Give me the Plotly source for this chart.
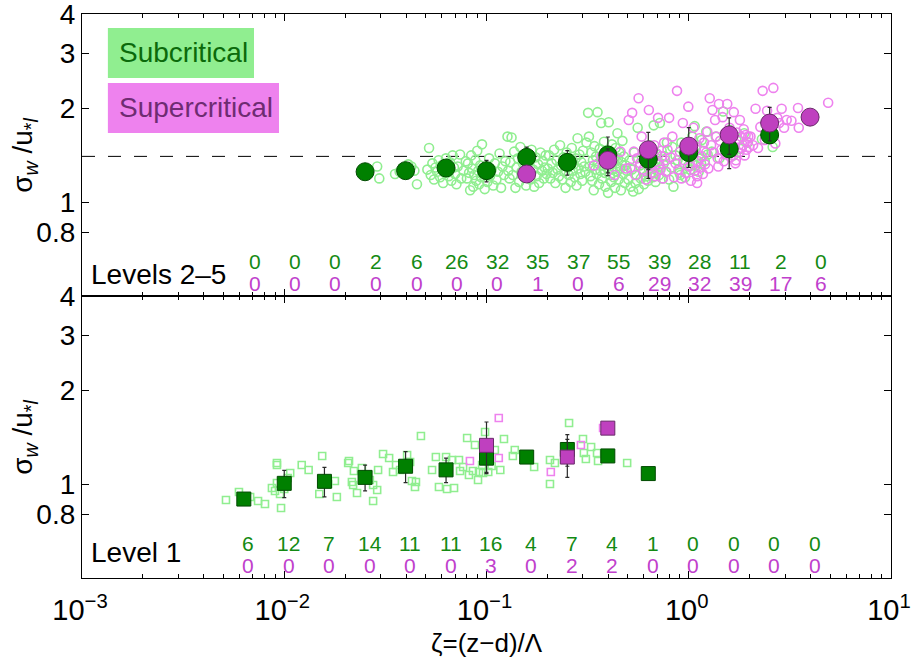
import numpy as np
import plotly.graph_objects as go
from plotly.subplots import make_subplots

# ---------------- data ----------------
bin_centers = [0.00631, 0.01, 0.0158, 0.0251, 0.0398, 0.0631, 0.1, 0.158, 0.251,
               0.398, 0.631, 1.0, 1.585, 2.512, 3.981]
sub_top_counts = [0, 0, 0, 2, 6, 26, 32, 35, 37, 55, 39, 28, 11, 2, 0]
sup_top_counts = [0, 0, 0, 0, 0, 0, 0, 1, 0, 6, 29, 32, 39, 17, 6]
sub_bot_counts = [6, 12, 7, 14, 11, 11, 16, 4, 7, 4, 1, 0, 0, 0, 0]
sup_bot_counts = [0, 0, 0, 0, 0, 0, 3, 0, 2, 2, 0, 0, 0, 0, 0]

ref_level = 1.4
y_tickvals = [0.8, 1, 2, 3, 4]
y_ticktext = ["0.8", "1", "2", "3", "4"]
x_tickvals = [0.001, 0.01, 0.1, 1, 10]
x_ticktext = ["10<sup>\u22123</sup>", "10<sup>\u22122</sup>", "10<sup>\u22121</sup>",
              "10<sup>0</sup>", "10<sup>1</sup>"]
x_minor_mult = [2, 3, 4, 5, 6, 7, 8, 9]

# Levels 2-5, subcritical individual runs
sub_top_zeta = [
    0.0288, 0.0295,
    0.0353, 0.0453, 0.0425, 0.0440, 0.0410, 0.0372,
    0.051, 0.052, 0.053, 0.054, 0.055, 0.056, 0.057, 0.058, 0.059, 0.060, 0.061, 0.062, 0.063,
    0.064, 0.065, 0.066, 0.067, 0.068, 0.069, 0.070, 0.071, 0.072, 0.074, 0.075, 0.077, 0.079,
    0.080, 0.081, 0.082, 0.083, 0.084, 0.085, 0.086, 0.087, 0.088, 0.089, 0.090, 0.091, 0.092,
    0.093, 0.094, 0.095, 0.097, 0.098, 0.100, 0.101, 0.103, 0.104, 0.106, 0.108, 0.110, 0.112,
    0.114, 0.116, 0.118, 0.120, 0.122, 0.124,
    0.127, 0.128, 0.130, 0.131, 0.133, 0.135, 0.137, 0.139, 0.141, 0.143, 0.145, 0.147, 0.149,
    0.151, 0.153, 0.155, 0.157, 0.159, 0.161, 0.163, 0.165, 0.167, 0.170, 0.172, 0.175, 0.177,
    0.180, 0.182, 0.185, 0.188, 0.190, 0.192, 0.194, 0.196, 0.198,
    0.201, 0.204, 0.207, 0.210, 0.213, 0.216, 0.219, 0.222, 0.225, 0.228, 0.231, 0.234, 0.237,
    0.240, 0.243, 0.246, 0.249, 0.252, 0.255, 0.258, 0.261, 0.264, 0.267, 0.270, 0.273, 0.276,
    0.279, 0.282, 0.285, 0.288, 0.291, 0.294, 0.297, 0.300, 0.304, 0.308, 0.312,
    0.318, 0.321, 0.324, 0.327, 0.330, 0.333, 0.336, 0.339, 0.342, 0.345, 0.348, 0.351, 0.354,
    0.357, 0.360, 0.363, 0.366, 0.369, 0.372, 0.375, 0.378, 0.381, 0.384, 0.387, 0.390, 0.393,
    0.396, 0.399, 0.402, 0.405, 0.408, 0.411, 0.414, 0.417, 0.420, 0.423, 0.426, 0.429, 0.432,
    0.435, 0.438, 0.441, 0.444, 0.447, 0.450, 0.454, 0.458, 0.462, 0.466, 0.470, 0.474, 0.478,
    0.483, 0.488, 0.494,
    0.503, 0.510, 0.517, 0.524, 0.531, 0.538, 0.545, 0.552, 0.559, 0.566, 0.573, 0.580, 0.587,
    0.594, 0.601, 0.608, 0.615, 0.622, 0.629, 0.636, 0.643, 0.650, 0.657, 0.664, 0.671, 0.678,
    0.685, 0.692, 0.699, 0.706, 0.713, 0.720, 0.727, 0.734, 0.741, 0.750, 0.760, 0.770, 0.780,
    0.80, 0.82, 0.84, 0.86, 0.88, 0.90, 0.92, 0.94, 0.96, 0.98, 1.00, 1.02, 1.04, 1.06, 1.08,
    1.10, 1.12, 1.14, 1.16, 1.18, 1.20, 1.22, 1.24, 0.83, 0.91, 0.99, 1.07, 1.15,
    1.30, 1.36, 1.42, 1.48, 1.54, 1.60, 1.66, 1.72, 1.80, 1.88, 1.96,
    2.30, 2.60,
]
sub_top_sigma = [
    1.30, 1.19,
    1.23, 1.14, 1.30, 1.26, 1.32, 1.25,
    1.27, 1.49, 1.22, 1.33, 1.18, 1.29, 1.25, 1.36, 1.20, 1.31, 1.15, 1.24, 1.38,
    1.27, 1.21, 1.34, 1.17, 1.41, 1.29, 1.23, 1.14, 1.30, 1.42, 1.19, 1.26, 1.35,
    1.19, 1.33, 1.24, 1.09, 1.41, 1.28, 1.12, 1.22, 1.36, 1.17, 1.46, 1.26, 1.14,
    1.31, 1.20, 1.53, 1.23, 1.10, 1.29, 1.16, 1.38, 1.21, 1.27, 1.13, 1.33, 1.18,
    1.25, 1.43, 1.11, 1.30, 1.22, 1.35,
    1.62, 1.26, 1.19, 1.34, 1.61, 1.22, 1.45, 1.11, 1.29, 1.38, 1.16, 1.50, 1.25,
    1.33, 1.20, 1.42, 1.13, 1.30, 1.24, 1.36, 1.18, 1.47, 1.27, 1.12, 1.39, 1.21,
    1.32, 1.15, 1.44, 1.26, 1.35, 1.19, 1.29, 1.41, 1.23,
    1.28, 1.41, 1.19, 1.33, 1.24, 1.47, 1.15, 1.36, 1.27, 1.21, 1.52, 1.31, 1.18,
    1.39, 1.25, 1.11, 1.44, 1.29, 1.22, 1.35, 1.16, 1.49, 1.26, 1.32, 1.20, 1.38,
    1.13, 1.60, 1.28, 1.42, 1.23, 1.34, 1.17, 1.46, 1.30, 1.25, 1.55,
    1.93, 1.62, 1.30, 1.21, 1.44, 1.17, 1.36, 1.09, 1.51, 1.27, 1.40, 1.23, 1.94,
    1.33, 1.14, 1.48, 1.26, 1.79, 1.19, 1.38, 1.31, 1.56, 1.24, 1.12, 1.43, 1.29,
    1.35, 1.07, 1.80, 1.46, 1.22, 1.33, 1.16, 1.53, 1.27, 1.41, 1.20, 1.36, 1.11,
    1.49, 1.30, 1.25, 1.66, 1.38, 1.18, 1.44, 1.28, 1.09, 1.34, 1.57, 1.23, 1.40,
    1.15, 1.31, 1.26,
    1.18, 1.36, 1.12, 1.27, 1.08, 1.44, 1.15, 1.22, 1.73, 1.10, 1.31, 1.19, 1.39,
    1.25, 1.14, 1.48, 1.21, 1.33, 1.17, 1.28, 1.52, 1.24, 1.37, 1.20, 1.76, 1.30,
    1.16, 1.42, 1.26, 1.35, 1.22, 1.79, 1.29, 1.46, 1.19, 1.32, 1.40, 1.25, 1.55,
    1.18, 1.29, 1.12, 1.41, 1.36, 1.24, 1.55, 1.33, 1.20, 1.47, 1.39, 1.27, 1.62, 1.44, 1.31,
    1.52, 1.25, 1.38, 1.58, 1.46, 1.35, 1.68, 1.42, 1.50, 1.22, 1.30, 1.75, 1.33,
    1.45, 1.62, 1.38, 1.95, 1.52, 1.70, 1.41, 1.58, 1.48, 1.66, 1.55,
    1.59, 1.50,
]

# Levels 2-5, supercritical individual runs
sup_top_zeta = [
    0.165,
    0.34, 0.37, 0.40, 0.43, 0.46, 0.49,
    0.505, 0.515, 0.525, 0.535, 0.545, 0.555, 0.565, 0.575, 0.585, 0.595, 0.605, 0.615, 0.625,
    0.635, 0.645, 0.655, 0.665, 0.675, 0.685, 0.695, 0.705, 0.715, 0.725, 0.735, 0.745, 0.755,
    0.765, 0.775, 0.785,
    0.800, 0.815, 0.830, 0.845, 0.860, 0.875, 0.890, 0.905, 0.920, 0.935, 0.950, 0.965, 0.980,
    0.995, 1.010, 1.025, 1.040, 1.055, 1.070, 1.085, 1.100, 1.115, 1.130, 1.145, 1.160, 1.175,
    1.190, 1.205, 1.220, 1.235, 1.250, 1.100,
    1.27, 1.29, 1.31, 1.33, 1.35, 1.37, 1.39, 1.41, 1.43, 1.45, 1.47, 1.49, 1.51, 1.53, 1.55,
    1.57, 1.59, 1.61, 1.63, 1.65, 1.67, 1.69, 1.71, 1.73, 1.75, 1.77, 1.79, 1.81, 1.83, 1.85,
    1.87, 1.89, 1.91, 1.93, 1.95, 1.97, 1.99, 1.40, 1.70,
    2.02, 2.08, 2.14, 2.20, 2.26, 2.32, 2.38, 2.44, 2.50, 2.56, 2.62, 2.68, 2.74, 2.80, 2.88,
    2.96, 3.05,
    3.22, 3.47, 3.50, 3.98, 4.10, 4.89,
]
sup_top_sigma = [
    1.23,
    1.31, 1.40, 1.36, 1.22, 1.45, 1.28,
    1.83, 1.29, 1.93, 1.45, 1.22, 1.38, 2.15, 1.33, 1.62, 1.27, 1.48, 1.18, 1.41,
    1.97, 1.30, 1.35, 1.24, 1.52, 1.21, 1.43, 1.86, 1.32, 1.27, 1.40, 1.19, 1.55,
    1.36, 1.25, 1.47,
    1.86, 1.39, 1.62, 1.20, 1.33, 2.27, 1.27, 1.45, 1.19, 1.79, 1.36, 1.24, 1.52,
    2.02, 1.30, 1.17, 1.42, 1.73, 1.26, 1.48, 1.21, 1.35, 1.60, 1.29, 1.40, 1.23,
    1.55, 1.32, 1.44, 1.68, 1.28, 1.15,
    2.15, 1.52, 1.97, 1.44, 1.83, 1.62, 1.38, 2.06, 1.57, 1.47, 1.87, 1.35, 1.66, 1.42, 2.06,
    1.53, 1.73, 1.39, 1.60, 1.46, 1.94, 1.50, 1.36, 1.67, 1.58, 1.44, 1.83, 1.62, 1.49, 1.52,
    1.71, 1.41, 1.64, 1.47, 1.56, 1.62, 1.50, 1.30, 1.33,
    1.62, 1.52, 1.99, 1.49, 1.74, 2.27, 1.58, 1.96, 1.83, 1.67, 2.32, 1.54, 1.86, 1.79, 1.99,
    1.73, 1.83,
    1.82, 2.00, 1.73, 1.87, 1.90, 2.08,
]

# Levels 2-5, bin means and spreads
sub_top_mean_zeta = [0.0251, 0.0398, 0.0631, 0.1, 0.158, 0.251, 0.398, 0.631, 1.0, 1.585, 2.512]
sub_top_mean_sigma = [1.25, 1.26, 1.285, 1.26, 1.39, 1.34, 1.415, 1.37, 1.44, 1.48, 1.64]
sub_top_err = [0.0, 0.0, 0.03, 0.10, 0.11, 0.12, 0.20, 0.18, 0.15, 0.20, 0.10]
sup_top_mean_zeta = [0.158, 0.398, 0.631, 1.0, 1.585, 2.512, 3.981]
sup_top_mean_sigma = [1.23, 1.36, 1.47, 1.51, 1.64, 1.79, 1.87]
sup_top_err = [0.0, 0.12, 0.20, 0.22, 0.22, 0.22, 0.07]

# Level 1, individual runs
sub_bot_zeta = [
    0.00515, 0.00597, 0.00742, 0.00803, 0.00647, 0.00678,
    0.0092, 0.0092, 0.0090, 0.00953, 0.00964, 0.0107, 0.0122, 0.0092, 0.00869, 0.0104, 0.0100, 0.0102,
    0.0132, 0.0154, 0.0149, 0.0178, 0.0182, 0.0165, 0.0161,
    0.0207, 0.0209, 0.0221, 0.0216, 0.0219, 0.0229, 0.0275, 0.0275, 0.0291, 0.0288, 0.0308,
    0.0254, 0.0242, 0.0265,
    0.0330, 0.0345, 0.0357, 0.0405, 0.0428, 0.0448, 0.0443, 0.0474, 0.0374, 0.0396, 0.0419,
    0.0538, 0.0562, 0.0582, 0.0631, 0.0638, 0.0691, 0.0675, 0.0731, 0.0740, 0.0766, 0.0638,
    0.0802, 0.0819, 0.0857, 0.0877, 0.0918, 0.0961, 0.0984, 0.102, 0.122, 0.104, 0.1005,
    0.106, 0.0951, 0.110, 0.117, 0.0908,
    0.138, 0.135, 0.172, 0.158,
    0.206, 0.218, 0.206, 0.256, 0.300, 0.303, 0.310,
    0.329, 0.352, 0.356, 0.394,
    0.496,
]
sub_bot_sigma = [
    0.889, 0.943, 0.882, 0.863, 0.895, 0.909,
    1.151, 1.168, 0.950, 0.929, 0.838, 1.085, 1.151, 1.007, 0.971, 1.045, 0.964, 1.007,
    1.109, 1.229, 0.929, 1.022, 0.909, 1.000, 1.038,
    1.168, 1.185, 1.101, 1.015, 0.993, 0.936, 0.882, 0.993, 1.109, 0.957, 1.248,
    1.053, 1.125, 1.030,
    1.211, 1.093, 1.151, 1.239, 1.022, 1.015, 0.978, 1.425, 1.109, 1.142, 1.176,
    1.109, 1.220, 0.978, 1.220, 0.964, 0.971, 1.194, 1.194, 1.101, 1.134, 1.109,
    1.404, 1.069, 1.101, 1.334, 1.093, 1.085, 1.468, 1.093, 1.394, 1.194, 1.239,
    1.142, 1.151, 1.285, 1.109, 1.030,
    1.285, 1.229, 1.134, 1.220,
    1.194, 1.168, 1.000, 1.569, 1.394, 1.257, 1.203,
    1.314, 1.257, 1.185, 1.229,
    1.168,
]
sup_bot_zeta = [0.115, 0.115, 0.0828, 0.208, 0.293, 0.377, 0.394]
sup_bot_sigma = [1.627, 1.211, 1.185, 1.093, 1.334, 1.512, 1.512]

# Level 1, bin means and spreads
sub_bot_mean_zeta = [0.00631, 0.01, 0.0158, 0.0251, 0.0398, 0.0631, 0.1, 0.158, 0.251, 0.398, 0.631]
sub_bot_mean_sigma = [0.895, 1.005, 1.02, 1.05, 1.14, 1.11, 1.21, 1.22, 1.29, 1.23, 1.08]
sub_bot_err = [0.0, 0.10, 0.11, 0.10, 0.13, 0.10, 0.12, 0.04, 0.15, 0.0, 0.0]
sup_bot_mean_zeta = [0.1, 0.251, 0.398]
sup_bot_mean_sigma = [1.33, 1.22, 1.51]
sup_bot_err = [0.25, 0.17, 0.0]

# ---------------- style ----------------
FONT = "Liberation Sans, Arial, Helvetica, sans-serif"
LIGHT_GREEN = "#90EE90"
VIOLET = "#EE82EE"
DARK_GREEN = "#008000"
PURPLE = "#BF40BF"
GREEN_TXT = "#138a13"
PURPLE_TXT = "#c040cc"
BIG = 28
EPS = 1e-4

fig = make_subplots(rows=2, cols=1, shared_xaxes=True, vertical_spacing=0)


def open_trace(x, y, color, symbol, size):
    return go.Scatter(x=x, y=y, mode="markers", showlegend=False, hoverinfo="skip",
                      marker=dict(symbol=symbol, size=size, color=color, line=dict(width=1.6, color=color)))


def mean_trace(x, y, err, fill, edge, symbol, size):
    return go.Scatter(x=x, y=y, mode="markers", showlegend=False,
                      error_y=dict(type="data", array=err, symmetric=True, color="#2a2a2a",
                                   thickness=1.2, width=2),
                      marker=dict(symbol=symbol, size=size, color=fill, line=dict(width=1, color=edge)))


fig.add_trace(open_trace(sub_top_zeta, sub_top_sigma, LIGHT_GREEN, "circle-open", 9), 1, 1)
fig.add_trace(open_trace(sup_top_zeta, sup_top_sigma, VIOLET, "circle-open", 9), 1, 1)
fig.add_trace(mean_trace(sub_top_mean_zeta, sub_top_mean_sigma, sub_top_err, DARK_GREEN, "#004a00", "circle", 18), 1, 1)
fig.add_trace(mean_trace(sup_top_mean_zeta, sup_top_mean_sigma, sup_top_err, PURPLE, "#6a2a6a", "circle", 18), 1, 1)

fig.add_trace(open_trace(sub_bot_zeta, sub_bot_sigma, LIGHT_GREEN, "square-open", 7), 2, 1)
fig.add_trace(open_trace(sup_bot_zeta, sup_bot_sigma, VIOLET, "square-open", 7), 2, 1)
fig.add_trace(mean_trace(sub_bot_mean_zeta, sub_bot_mean_sigma, sub_bot_err, DARK_GREEN, "#004a00", "square", 14), 2, 1)
fig.add_trace(mean_trace(sup_bot_mean_zeta, sup_bot_mean_sigma, sup_bot_err, PURPLE, "#6a2a6a", "square", 14), 2, 1)

axis_common = dict(showline=True, linecolor="black", linewidth=1.3, mirror="ticks",
                   ticks="inside", ticklen=7, tickcolor="black", tickwidth=1,
                   showgrid=False, zeroline=False, automargin=False,
                   ticklabeloverflow="allow")

minor_vals = [m * d for d in x_tickvals[:-1] for m in x_minor_mult]

for i in (1, 2):
    fig.update_xaxes(type="log", range=[-3 - EPS, 1 + EPS], tickmode="array",
                     tickvals=x_tickvals, ticktext=x_ticktext,
                     minor=dict(ticks="inside", ticklen=4, tickmode="array", tickvals=minor_vals,
                                tickcolor="black", tickwidth=1, showgrid=False),
                     tickfont=dict(family=FONT, size=29, color="black"),
                     ticklabelshift=-2, ticklabelstandoff=6,
                     showticklabels=(i == 2), row=i, col=1, **axis_common)
    fig.update_yaxes(type="log", range=[np.log10(0.5), np.log10(4) + EPS],
                     tickvals=y_tickvals, ticktext=y_ticktext,
                     tickfont=dict(family=FONT, size=BIG, color="black"),
                     row=i, col=1, **axis_common)

# reference level (dashed)
fig.add_shape(type="line", xref="x domain", x0=0, x1=1, yref="y", y0=ref_level, y1=ref_level,
              line=dict(color="black", width=1, dash="13px,13px"), layer="below")

# legend boxes
fig.add_shape(type="rect", xref="x domain", yref="y domain", x0=0.032, x1=0.2126, y0=0.773, y1=0.950,
              fillcolor=LIGHT_GREEN, line=dict(width=0))
fig.add_shape(type="rect", xref="x domain", yref="y domain", x0=0.032, x1=0.2435, y0=0.578, y1=0.755,
              fillcolor=VIOLET, line=dict(width=0))

ann = []
ann.append(dict(text="Subcritical", xref="x domain", yref="y domain", x=0.043, y=0.862,
                xanchor="left", yanchor="middle", showarrow=False,
                font=dict(family=FONT, size=BIG, color="#0b6a0b")))
ann.append(dict(text="Supercritical", xref="x domain", yref="y domain", x=0.043, y=0.667,
                xanchor="left", yanchor="middle", showarrow=False,
                font=dict(family=FONT, size=BIG, color="#6e2c72")))
ann.append(dict(text="Levels 2\u20135", xref="x domain", yref="y domain", x=0.009, y=0.078,
                xanchor="left", yanchor="middle", showarrow=False,
                font=dict(family=FONT, size=BIG, color="black")))
ann.append(dict(text="Level 1", xref="x2 domain", yref="y2 domain", x=0.009, y=0.089,
                xanchor="left", yanchor="middle", showarrow=False,
                font=dict(family=FONT, size=BIG, color="black")))

for k, c in enumerate(bin_centers):
    lx = np.log10(c)
    ann.append(dict(text=str(sub_top_counts[k]), xref="x", yref="y domain", x=lx + 0.054, y=0.1206,
                    xanchor="center", yanchor="middle", showarrow=False,
                    font=dict(family=FONT, size=21, color=GREEN_TXT)))
    ann.append(dict(text=str(sup_top_counts[k]), xref="x", yref="y domain", x=lx + 0.054, y=0.046,
                    xanchor="center", yanchor="middle", showarrow=False,
                    font=dict(family=FONT, size=21, color=PURPLE_TXT)))
    ann.append(dict(text=str(sub_bot_counts[k]), xref="x2", yref="y2 domain", x=lx + 0.022, y=0.124,
                    xanchor="center", yanchor="middle", showarrow=False,
                    font=dict(family=FONT, size=21, color=GREEN_TXT)))
    ann.append(dict(text=str(sup_bot_counts[k]), xref="x2", yref="y2 domain", x=lx + 0.022, y=0.0426,
                    xanchor="center", yanchor="middle", showarrow=False,
                    font=dict(family=FONT, size=21, color=PURPLE_TXT)))

ytitle = "\u03c3<sub><i>w</i></sub> /u<sub>*<i>l</i></sub>"
ann.append(dict(text=ytitle, xref="paper", yref="y domain", x=-0.072, y=0.5, textangle=-90,
                xanchor="center", yanchor="middle", showarrow=False,
                font=dict(family=FONT, size=BIG, color="black")))
ann.append(dict(text=ytitle, xref="paper", yref="y2 domain", x=-0.072, y=0.5, textangle=-90,
                xanchor="center", yanchor="middle", showarrow=False,
                font=dict(family=FONT, size=BIG, color="black")))
ann.append(dict(text="\u03b6=(z\u2212d)/\u039b", xref="paper", yref="paper", x=0.5, y=-0.1152,
                xanchor="center", yanchor="middle", showarrow=False,
                font=dict(family=FONT, size=26, color="black")))

fig.update_layout(width=911, height=657, autosize=False,
                  margin=dict(l=82, r=20, t=14, b=79),
                  paper_bgcolor="white", plot_bgcolor="white",
                  showlegend=False, annotations=ann,
                  font=dict(family=FONT, color="black"))

fig.write_html("out.html", config={"displayModeBar": False},
               post_script="document.body.style.margin='0px';document.body.style.overflow='hidden';")
